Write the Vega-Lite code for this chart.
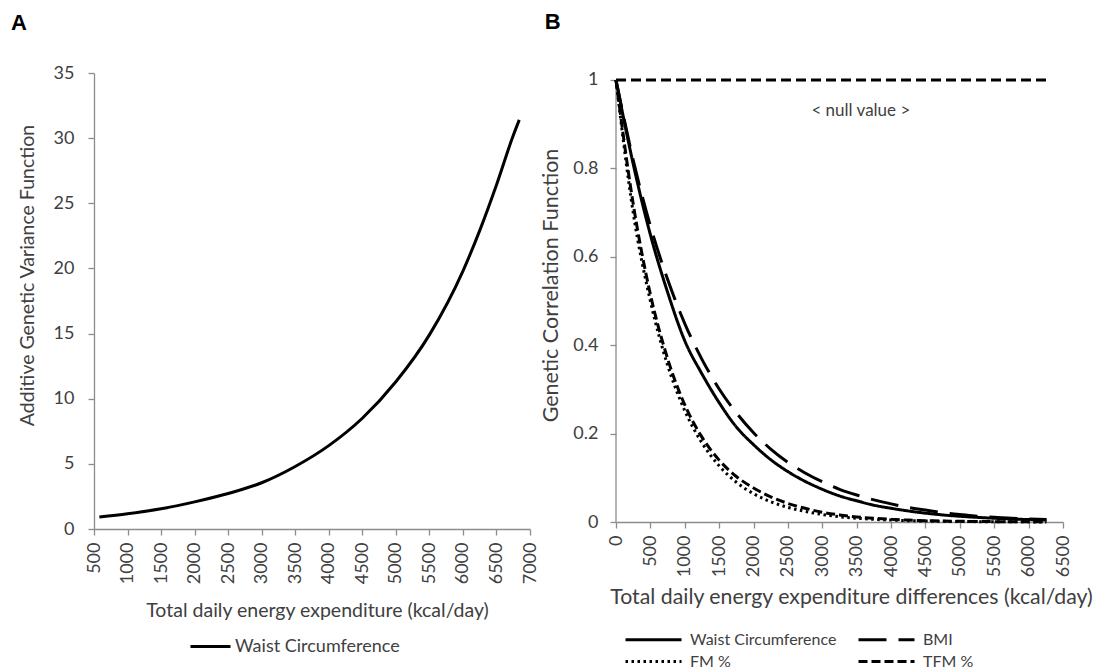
{
  "$schema": "https://vega.github.io/schema/vega-lite/v6.json",
  "background": "white",
  "padding": {"left": 11, "top": 10, "right": 5, "bottom": 5},
  "config": {
    "font": "Lato",
    "view": {"stroke": null},
    "axis": {
      "grid": false,
      "domainColor": "#8c8c8c",
      "tickColor": "#8c8c8c",
      "domainWidth": 1.3,
      "tickWidth": 1.3,
      "tickSize": 6,
      "labelColor": "#404040",
      "titleColor": "#404040",
      "labelFontSize": 18,
      "titleFontSize": 21,
      "titleFontWeight": "normal",
      "labelPadding": 8
    },
    "legend": {
      "symbolType": "stroke",
      "symbolStrokeColor": "black",
      "symbolStrokeWidth": 3,
      "labelColor": "#404040",
      "labelLimit": 0,
      "title": null
    },
    "title": {
      "font": "Liberation Sans",
      "fontSize": 22,
      "fontWeight": "bold",
      "color": "black",
      "anchor": "start",
      "frame": "bounds",
      "offset": 29
    }
  },
  "datasets": {
    "variance": [
      {"tdee": 580, "variance": 0.93, "trait": "Waist Circumference"},
      {"tdee": 1000, "variance": 1.17, "trait": "Waist Circumference"},
      {"tdee": 1500, "variance": 1.55, "trait": "Waist Circumference"},
      {"tdee": 2000, "variance": 2.08, "trait": "Waist Circumference"},
      {"tdee": 2500, "variance": 2.72, "trait": "Waist Circumference"},
      {"tdee": 3000, "variance": 3.55, "trait": "Waist Circumference"},
      {"tdee": 3500, "variance": 4.8, "trait": "Waist Circumference"},
      {"tdee": 4000, "variance": 6.4, "trait": "Waist Circumference"},
      {"tdee": 4500, "variance": 8.5, "trait": "Waist Circumference"},
      {"tdee": 5000, "variance": 11.3, "trait": "Waist Circumference"},
      {"tdee": 5500, "variance": 14.9, "trait": "Waist Circumference"},
      {"tdee": 6000, "variance": 19.8, "trait": "Waist Circumference"},
      {"tdee": 6250, "variance": 22.9, "trait": "Waist Circumference"},
      {"tdee": 6500, "variance": 26.4, "trait": "Waist Circumference"},
      {"tdee": 6750, "variance": 30.2, "trait": "Waist Circumference"},
      {"tdee": 6840, "variance": 31.4, "trait": "Waist Circumference"}
    ],
    "correlation": [
      {"trait": "Waist Circumference", "diff": 0, "r": 1},
      {"trait": "Waist Circumference", "diff": 250, "r": 0.81},
      {"trait": "Waist Circumference", "diff": 500, "r": 0.65},
      {"trait": "Waist Circumference", "diff": 750, "r": 0.52},
      {"trait": "Waist Circumference", "diff": 1000, "r": 0.41},
      {"trait": "Waist Circumference", "diff": 1250, "r": 0.335},
      {"trait": "Waist Circumference", "diff": 1500, "r": 0.27},
      {"trait": "Waist Circumference", "diff": 1750, "r": 0.215},
      {"trait": "Waist Circumference", "diff": 2000, "r": 0.175},
      {"trait": "Waist Circumference", "diff": 2250, "r": 0.141},
      {"trait": "Waist Circumference", "diff": 2500, "r": 0.114},
      {"trait": "Waist Circumference", "diff": 2750, "r": 0.092},
      {"trait": "Waist Circumference", "diff": 3000, "r": 0.074},
      {"trait": "Waist Circumference", "diff": 3250, "r": 0.059},
      {"trait": "Waist Circumference", "diff": 3500, "r": 0.048},
      {"trait": "Waist Circumference", "diff": 3750, "r": 0.038},
      {"trait": "Waist Circumference", "diff": 4000, "r": 0.031},
      {"trait": "Waist Circumference", "diff": 4250, "r": 0.025},
      {"trait": "Waist Circumference", "diff": 4500, "r": 0.02},
      {"trait": "Waist Circumference", "diff": 4750, "r": 0.016},
      {"trait": "Waist Circumference", "diff": 5000, "r": 0.013},
      {"trait": "Waist Circumference", "diff": 5250, "r": 0.0105},
      {"trait": "Waist Circumference", "diff": 5500, "r": 0.0085},
      {"trait": "Waist Circumference", "diff": 5750, "r": 0.0068},
      {"trait": "Waist Circumference", "diff": 6000, "r": 0.0055},
      {"trait": "Waist Circumference", "diff": 6260, "r": 0.0044},
      {"trait": "BMI", "diff": 0, "r": 1},
      {"trait": "BMI", "diff": 250, "r": 0.819},
      {"trait": "BMI", "diff": 500, "r": 0.67},
      {"trait": "BMI", "diff": 750, "r": 0.549},
      {"trait": "BMI", "diff": 1000, "r": 0.449},
      {"trait": "BMI", "diff": 1250, "r": 0.368},
      {"trait": "BMI", "diff": 1500, "r": 0.301},
      {"trait": "BMI", "diff": 1750, "r": 0.247},
      {"trait": "BMI", "diff": 2000, "r": 0.202},
      {"trait": "BMI", "diff": 2250, "r": 0.165},
      {"trait": "BMI", "diff": 2500, "r": 0.135},
      {"trait": "BMI", "diff": 2750, "r": 0.111},
      {"trait": "BMI", "diff": 3000, "r": 0.091},
      {"trait": "BMI", "diff": 3250, "r": 0.074},
      {"trait": "BMI", "diff": 3500, "r": 0.061},
      {"trait": "BMI", "diff": 3750, "r": 0.05},
      {"trait": "BMI", "diff": 4000, "r": 0.041},
      {"trait": "BMI", "diff": 4250, "r": 0.033},
      {"trait": "BMI", "diff": 4500, "r": 0.027},
      {"trait": "BMI", "diff": 4750, "r": 0.021},
      {"trait": "BMI", "diff": 5000, "r": 0.017},
      {"trait": "BMI", "diff": 5250, "r": 0.013},
      {"trait": "BMI", "diff": 5500, "r": 0.011},
      {"trait": "BMI", "diff": 5750, "r": 0.0085},
      {"trait": "BMI", "diff": 6000, "r": 0.007},
      {"trait": "BMI", "diff": 6260, "r": 0.0055},
      {"trait": "FM %", "diff": 0, "r": 1},
      {"trait": "FM %", "diff": 250, "r": 0.7},
      {"trait": "FM %", "diff": 500, "r": 0.5},
      {"trait": "FM %", "diff": 750, "r": 0.355},
      {"trait": "FM %", "diff": 1000, "r": 0.252},
      {"trait": "FM %", "diff": 1250, "r": 0.179},
      {"trait": "FM %", "diff": 1500, "r": 0.127},
      {"trait": "FM %", "diff": 1750, "r": 0.09},
      {"trait": "FM %", "diff": 2000, "r": 0.064},
      {"trait": "FM %", "diff": 2250, "r": 0.046},
      {"trait": "FM %", "diff": 2500, "r": 0.033},
      {"trait": "FM %", "diff": 2750, "r": 0.024},
      {"trait": "FM %", "diff": 3000, "r": 0.017},
      {"trait": "FM %", "diff": 3250, "r": 0.012},
      {"trait": "FM %", "diff": 3500, "r": 0.0085},
      {"trait": "FM %", "diff": 3750, "r": 0.006},
      {"trait": "FM %", "diff": 4000, "r": 0.0043},
      {"trait": "FM %", "diff": 4250, "r": 0.003},
      {"trait": "FM %", "diff": 4500, "r": 0.0021},
      {"trait": "FM %", "diff": 4750, "r": 0.0015},
      {"trait": "FM %", "diff": 5000, "r": 0.0011},
      {"trait": "FM %", "diff": 5250, "r": 0.0008},
      {"trait": "FM %", "diff": 5500, "r": 0.0006},
      {"trait": "FM %", "diff": 5750, "r": 0.0004},
      {"trait": "FM %", "diff": 6000, "r": 0.0003},
      {"trait": "FM %", "diff": 6260, "r": 0.0002},
      {"trait": "TFM %", "diff": 0, "r": 1},
      {"trait": "TFM %", "diff": 250, "r": 0.72},
      {"trait": "TFM %", "diff": 500, "r": 0.515},
      {"trait": "TFM %", "diff": 750, "r": 0.37},
      {"trait": "TFM %", "diff": 1000, "r": 0.265},
      {"trait": "TFM %", "diff": 1250, "r": 0.192},
      {"trait": "TFM %", "diff": 1500, "r": 0.14},
      {"trait": "TFM %", "diff": 1750, "r": 0.103},
      {"trait": "TFM %", "diff": 2000, "r": 0.077},
      {"trait": "TFM %", "diff": 2250, "r": 0.057},
      {"trait": "TFM %", "diff": 2500, "r": 0.042},
      {"trait": "TFM %", "diff": 2750, "r": 0.031},
      {"trait": "TFM %", "diff": 3000, "r": 0.022},
      {"trait": "TFM %", "diff": 3250, "r": 0.016},
      {"trait": "TFM %", "diff": 3500, "r": 0.0115},
      {"trait": "TFM %", "diff": 3750, "r": 0.0083},
      {"trait": "TFM %", "diff": 4000, "r": 0.006},
      {"trait": "TFM %", "diff": 4250, "r": 0.0043},
      {"trait": "TFM %", "diff": 4500, "r": 0.0031},
      {"trait": "TFM %", "diff": 4750, "r": 0.0022},
      {"trait": "TFM %", "diff": 5000, "r": 0.0016},
      {"trait": "TFM %", "diff": 5250, "r": 0.0011},
      {"trait": "TFM %", "diff": 5500, "r": 0.0008},
      {"trait": "TFM %", "diff": 5750, "r": 0.0006},
      {"trait": "TFM %", "diff": 6000, "r": 0.0004},
      {"trait": "TFM %", "diff": 6260, "r": 0.0003}
    ],
    "nullLine": [
      {"diff": 0, "r": 1},
      {"diff": 6260, "r": 1}
    ],
    "axisLine": [
      {"diff": 0, "r": 0, "r2": 1}
    ],
    "note": [
      {"diff": 3560, "r": 0.93, "label": "< null value >"}
    ]
  },
  "spacing": 1,
  "resolve": {
    "scale": {"color": "independent", "strokeDash": "independent"},
    "legend": {"color": "independent", "strokeDash": "independent"}
  },
  "hconcat": [
    {
      "title": {"text": "A", "dx": -6},
      "width": 436,
      "height": 456,
      "data": {"name": "variance"},
      "mark": {"type": "line", "interpolate": "monotone", "strokeWidth": 3, "color": "black"},
      "encoding": {
        "x": {
          "field": "tdee",
          "type": "quantitative",
          "scale": {"domain": [500, 7000], "nice": false, "zero": false},
          "axis": {
            "title": "Total daily energy expenditure (kcal/day)",
            "values": [500, 1000, 1500, 2000, 2500, 3000, 3500, 4000, 4500, 5000, 5500, 6000, 6500, 7000],
            "format": "d",
            "labelAngle": -90,
            "labelPadding": 7,
            "titlePadding": 18,
            "titleFontSize": 19.5,
            "titleX": 223
          }
        },
        "y": {
          "field": "variance",
          "type": "quantitative",
          "scale": {"domain": [0, 35], "nice": false},
          "axis": {
            "title": "Additive Genetic Variance Function",
            "values": [0, 5, 10, 15, 20, 25, 30, 35],
            "labelPadding": 14,
            "titlePadding": 16,
            "titleFontSize": 19.5,
            "titleY": 202
          }
        },
        "color": {
          "field": "trait",
          "type": "nominal",
          "scale": {"range": ["black"]},
          "legend": {
            "orient": "none",
            "legendX": 95,
            "legendY": 552,
            "symbolSize": 1600,
            "labelFontSize": 18,
            "labelOffset": 3
          }
        }
      }
    },
    {
      "title": {"text": "B", "dx": 4, "dy": -8},
      "width": 447,
      "height": 449,
      "encoding": {
        "x": {
          "field": "diff",
          "type": "quantitative",
          "scale": {"domain": [0, 6500], "nice": false},
          "axis": {
            "title": "Total daily energy expenditure differences (kcal/day)",
            "values": [0, 500, 1000, 1500, 2000, 2500, 3000, 3500, 4000, 4500, 5000, 5500, 6000, 6500],
            "format": "d",
            "labelAngle": -90,
            "labelPadding": 7,
            "titlePadding": 10,
            "titleFontSize": 21.3,
            "titleX": 235
          }
        },
        "y": {
          "field": "r",
          "type": "quantitative",
          "scale": {"domain": [0, 1.0158], "nice": false},
          "axis": {
            "title": "Genetic Correlation Function",
            "values": [0, 0.2, 0.4, 0.6, 0.8, 1],
            "format": "~g",
            "domain": false,
            "labelPadding": 12,
            "titlePadding": 10,
            "titleFontSize": 21.5,
            "titleY": 212
          }
        }
      },
      "layer": [
        {
          "data": {"name": "axisLine"},
          "mark": {"type": "rule", "color": "#8c8c8c", "strokeWidth": 1.3},
          "encoding": {"y2": {"field": "r2"}}
        },
        {
          "data": {"name": "nullLine"},
          "mark": {"type": "line", "color": "black", "strokeWidth": 3, "strokeDash": [10, 5]},
          "encoding": {}
        },
        {
          "data": {"name": "correlation"},
          "mark": {"type": "line", "interpolate": "monotone", "color": "black", "strokeWidth": 3},
          "encoding": {
            "strokeDash": {
              "field": "trait",
              "type": "nominal",
              "sort": ["Waist Circumference", "BMI", "FM %", "TFM %"],
              "scale": {
                "domain": ["Waist Circumference", "BMI", "FM %", "TFM %"],
                "range": [[1, 0], [28, 12], [2.5, 3.5], [9, 4]]
              },
              "legend": {
                "orient": "none",
                "direction": "horizontal",
                "legendX": 8,
                "legendY": 558,
                "columns": 2,
                "columnPadding": 15,
                "rowPadding": 5,
                "symbolType": "M-4,0L4,0",
                "symbolSize": 196,
                "symbolOffset": 21,
                "labelFontSize": 16,
                "labelOffset": 28
              }
            }
          }
        },
        {
          "data": {"name": "note"},
          "mark": {"type": "text", "fontSize": 17, "color": "#404040"},
          "encoding": {"text": {"field": "label"}}
        }
      ]
    }
  ]
}
